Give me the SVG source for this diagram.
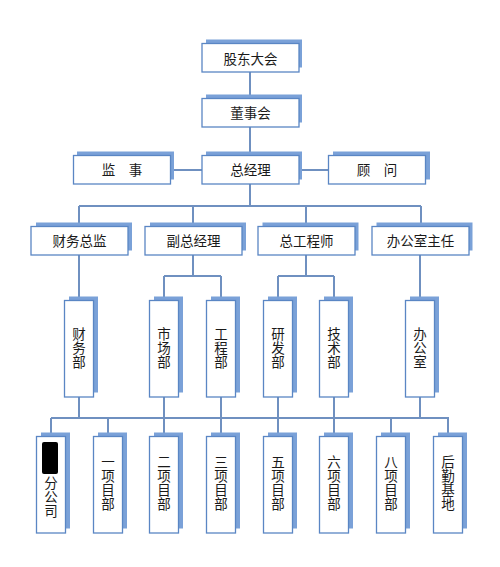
<svg xmlns="http://www.w3.org/2000/svg" width="500" height="567" viewBox="0 0 500 567">
<style>
.sh{fill:#7aa1d8}
.bx{fill:#fff;stroke:#5a86c4;stroke-width:1.3}
.t{font-family:"Noto Sans CJK SC","Liberation Sans",sans-serif;font-size:13.5px;fill:#1a1a1a;text-anchor:middle}
.v{writing-mode:vertical-rl;letter-spacing:0.5px}
.ln{fill:none;stroke:#6f90c0;stroke-width:2}
</style>
<rect width="500" height="567" fill="#fff"/>
<g id="connectors">
<path class="ln" d="M250 72V98M250 127V156M171 170H329M250 184V206M79 206H421M79 206V227M193 206V227M306 206V227M421 206V227"/>
<path class="ln" d="M79 255V301M193 255V276M164 276H221M164 276V301M221 276V301M306 255V276M278 276H334M278 276V301M334 276V301M420 255V301"/>
<path class="ln" d="M79 397V418M164 397V418M221 397V418M278 397V418M334 397V418M420 397V418M51 418H449M51 418V437M108 418V437M164 418V437M221 418V437M278 418V437M334 418V437M391 418V437M448 418V437"/>
</g>
<g id="n1"><rect class="sh" x="206" y="39.5" width="96" height="28"/><rect class="bx" x="202" y="43.5" width="97" height="28.5"/><text class="t" x="250.5" y="63.5">股东大会</text></g>
<g id="n2"><rect class="sh" x="206" y="94.5" width="96" height="28"/><rect class="bx" x="202" y="98.5" width="97" height="28.5"/><text class="t" x="250.5" y="118">董事会</text></g>
<g id="n3"><rect class="sh" x="77" y="151.5" width="97" height="28"/><rect class="bx" x="73.5" y="155.5" width="97" height="28.5"/><text class="t" x="122" y="175">监　事</text></g>
<g id="n4"><rect class="sh" x="206" y="151.5" width="96" height="28"/><rect class="bx" x="202" y="155.5" width="97" height="28.5"/><text class="t" x="250.5" y="175">总经理</text></g>
<g id="n5"><rect class="sh" x="333" y="151.5" width="97" height="28"/><rect class="bx" x="328.5" y="155.5" width="97" height="28.5"/><text class="t" x="377" y="175">顾　问</text></g>
<g id="n6"><rect class="sh" x="36" y="222.5" width="96" height="28"/><rect class="bx" x="31" y="226.5" width="97" height="28.5"/><text class="t" x="79.5" y="246">财务总监</text></g>
<g id="n7"><rect class="sh" x="150" y="222.5" width="96" height="28"/><rect class="bx" x="145" y="226.5" width="97" height="28.5"/><text class="t" x="193.5" y="246">副总经理</text></g>
<g id="n8"><rect class="sh" x="262.5" y="222.5" width="96" height="28"/><rect class="bx" x="258" y="226.5" width="97" height="28.5"/><text class="t" x="306.5" y="246">总工程师</text></g>
<g id="n9"><rect class="sh" x="376.5" y="222.5" width="96" height="28"/><rect class="bx" x="372" y="226.5" width="97" height="28.5"/><text class="t" x="420.5" y="246">办公室主任</text></g>
<g id="n10"><rect class="sh" x="69" y="296.5" width="29" height="96"/><rect class="bx" x="64.5" y="300.5" width="29" height="96.5"/><text class="t v" x="79" y="348">财务部</text></g>
<g id="n11"><rect class="sh" x="154" y="296.5" width="29" height="96"/><rect class="bx" x="149.5" y="300.5" width="29" height="96.5"/><text class="t v" x="164" y="348">市场部</text></g>
<g id="n12"><rect class="sh" x="211" y="296.5" width="29" height="96"/><rect class="bx" x="206.5" y="300.5" width="29" height="96.5"/><text class="t v" x="221" y="348">工程部</text></g>
<g id="n13"><rect class="sh" x="268" y="296.5" width="29" height="96"/><rect class="bx" x="263.5" y="300.5" width="29" height="96.5"/><text class="t v" x="278" y="348">研发部</text></g>
<g id="n14"><rect class="sh" x="324" y="296.5" width="29" height="96"/><rect class="bx" x="319.5" y="300.5" width="29" height="96.5"/><text class="t v" x="334" y="348">技术部</text></g>
<g id="n15"><rect class="sh" x="410" y="296.5" width="29" height="96"/><rect class="bx" x="405.5" y="300.5" width="29" height="96.5"/><text class="t v" x="420" y="348">办公室</text></g>
<g id="n16"><rect class="sh" x="41" y="432.5" width="29" height="96"/><rect class="bx" x="36.5" y="436.5" width="29" height="96.5"/><rect x="42" y="442" width="16" height="32" rx="2" fill="#000"/><text class="t v" x="51" y="497">分公司</text></g>
<g id="n17"><rect class="sh" x="98" y="432.5" width="29" height="96"/><rect class="bx" x="93.5" y="436.5" width="29" height="96.5"/><text class="t v" x="108" y="483">一项目部</text></g>
<g id="n18"><rect class="sh" x="154" y="432.5" width="29" height="96"/><rect class="bx" x="149.5" y="436.5" width="29" height="96.5"/><text class="t v" x="164" y="483">二项目部</text></g>
<g id="n19"><rect class="sh" x="211" y="432.5" width="29" height="96"/><rect class="bx" x="206.5" y="436.5" width="29" height="96.5"/><text class="t v" x="221" y="483">三项目部</text></g>
<g id="n20"><rect class="sh" x="268" y="432.5" width="29" height="96"/><rect class="bx" x="263.5" y="436.5" width="29" height="96.5"/><text class="t v" x="278" y="483">五项目部</text></g>
<g id="n21"><rect class="sh" x="324" y="432.5" width="29" height="96"/><rect class="bx" x="319.5" y="436.5" width="29" height="96.5"/><text class="t v" x="334" y="483">六项目部</text></g>
<g id="n22"><rect class="sh" x="381" y="432.5" width="29" height="96"/><rect class="bx" x="376.5" y="436.5" width="29" height="96.5"/><text class="t v" x="391" y="483">八项目部</text></g>
<g id="n23"><rect class="sh" x="438" y="432.5" width="29" height="96"/><rect class="bx" x="433.5" y="436.5" width="29" height="96.5"/><text class="t v" x="448" y="483">后勤基地</text></g>
</svg>
